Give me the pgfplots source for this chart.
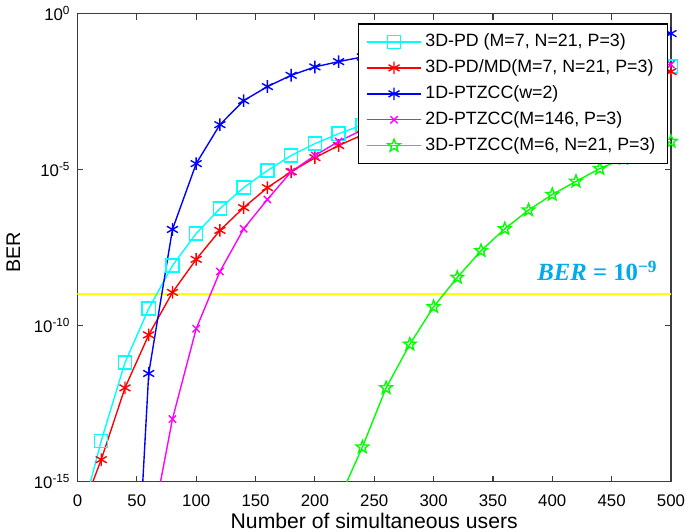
\documentclass[border=0pt]{standalone}
\usepackage{pgfplots}
\pgfplotsset{compat=1.18}
\usepackage{fontspec}
\setmainfont{Liberation Sans}
\newfontfamily\eqfont{Liberation Serif}
\definecolor{eqblue}{RGB}{0,170,235}
\definecolor{axgray}{RGB}{60,60,60}
\definecolor{mcyan}{RGB}{0,255,255}
\definecolor{mred}{RGB}{255,0,0}
\definecolor{mblue}{RGB}{0,0,255}
\definecolor{mmag}{RGB}{255,0,255}
\definecolor{mgreen}{RGB}{0,255,0}
\definecolor{myellow}{RGB}{255,255,0}

% outlined five-pointed star, like MATLAB's 'p' marker
\pgfdeclareplotmark{pentagram}{%
  \pgfpathmoveto{\pgfpointpolar{90}{\pgfplotmarksize}}%
  \pgfpathlineto{\pgfpointpolar{126}{0.42\pgfplotmarksize}}%
  \pgfpathlineto{\pgfpointpolar{162}{\pgfplotmarksize}}%
  \pgfpathlineto{\pgfpointpolar{198}{0.42\pgfplotmarksize}}%
  \pgfpathlineto{\pgfpointpolar{234}{\pgfplotmarksize}}%
  \pgfpathlineto{\pgfpointpolar{270}{0.42\pgfplotmarksize}}%
  \pgfpathlineto{\pgfpointpolar{306}{\pgfplotmarksize}}%
  \pgfpathlineto{\pgfpointpolar{342}{0.42\pgfplotmarksize}}%
  \pgfpathlineto{\pgfpointpolar{18}{\pgfplotmarksize}}%
  \pgfpathlineto{\pgfpointpolar{54}{0.42\pgfplotmarksize}}%
  \pgfpathclose
  \pgfusepathqstroke
}

\begin{document}
\begin{tikzpicture}
\begin{axis}[
    scale only axis,
    width=300pt, height=236.5pt,
    ymode=log,
    xmin=0, xmax=500,
    ymin=1e-15, ymax=1,
    xtick={0,50,...,500},
    ytick={1e-15,1e-10,1e-5,1},
    yticklabels={10\textsuperscript{-15},10\textsuperscript{-10},10\textsuperscript{-5},10\textsuperscript{0}},
    minor ytick={}, minor xtick={},
    /pgf/number format/assume math mode=true,
    tick align=inside,
    major tick length=3pt,
    axis line style={axgray, line width=0.8pt},
    every tick/.style={axgray, line width=0.6pt},
    ticklabel style={font=\fontsize{8.5}{10}\selectfont},
    xticklabel style={inner xsep=0pt, yshift=-3pt},
    xlabel={Number of simultaneous users},
    ylabel={BER},
    every axis x label/.style={at={(axis description cs:0.5,-0.100)}, anchor=base,
        inner sep=1.5pt, font=\fontsize{10.7}{12}\selectfont},
    every axis y label/.style={at={(axis description cs:-0.108,0.49)}, rotate=90,
        anchor=center, font=\fontsize{10}{12}\selectfont},
    legend style={at={(0.995,0.979)}, anchor=north east, draw=black, line width=0.7pt,
        font=\fontsize{9}{11}\selectfont, row sep=1.1pt, inner xsep=4pt, inner ysep=3pt},
    legend cell align=left,
    legend image code/.code={\draw[mark repeat=2,mark phase=2,line width=0.7pt]
        plot coordinates {(0pt,0pt) (13.5pt,0pt) (27pt,0pt)};},
    every axis plot/.append style={line width=0.7pt},
]
% threshold line
\addplot[myellow, line width=1pt, forget plot] coordinates {(0,1e-9) (500,1e-9)};

% tails below the lower limit (no markers)
\addplot[mcyan, forget plot] coordinates {(0,2.5e-17) (20,2.0e-14)};
\addplot[mred, forget plot] coordinates {(0,5.0e-17) (20,5.0e-15)};
\addplot[mblue, forget plot] coordinates {(50,3.2e-19) (60,2.9e-12)};
\addplot[mmag, forget plot] coordinates {(60,1e-17) (80,1e-13)};
\addplot[mgreen, forget plot] coordinates {(220,2.5e-16) (240,1.26e-14)};

% 3D-PD
\addplot[mcyan, mark=square, mark size=3.3pt] coordinates {
(20,2.0e-14) (40,6.46e-12) (60,3.47e-10) (80,8.3e-9) (100,8.9e-8)
(120,5.6e-7) (140,2.63e-6) (160,9.3e-6) (180,2.82e-5) (200,6.76e-5)
(220,1.41e-4) (240,2.69e-4) (260,4.79e-4) (280,8.13e-4) (300,1.32e-3)
(320,2.04e-3) (340,3.02e-3) (360,4.27e-3) (380,5.89e-3) (400,7.76e-3)
(420,1.0e-2) (440,1.26e-2) (460,1.51e-2) (480,1.78e-2) (500,2.0e-2)};
\addlegendentry{3D-PD (M=7, N=21, P=3)}

% 3D-PD/MD
\addplot[mred, mark=asterisk, mark size=3.2pt] coordinates {
(20,5.0e-15) (40,1.0e-12) (60,5.0e-11) (80,1.15e-9) (100,1.32e-8)
(120,1.12e-7) (140,6.03e-7) (160,2.63e-6) (180,8.51e-6) (200,2.4e-5)
(220,5.89e-5) (240,1.29e-4) (260,2.57e-4) (280,4.79e-4) (300,8.32e-4)
(320,1.35e-3) (340,2.09e-3) (360,3.09e-3) (380,4.37e-3) (400,5.89e-3)
(420,7.59e-3) (440,9.33e-3) (460,1.1e-2) (480,1.26e-2) (500,1.38e-2)};
\addlegendentry{3D-PD/MD(M=7, N=21, P=3)}

% 1D-PTZCC
\addplot[mblue, mark=asterisk, mark size=3.2pt] coordinates {
(60,2.9e-12) (80,1.2e-7) (100,1.55e-5) (120,2.75e-4) (140,1.62e-3)
(160,4.57e-3) (180,1.05e-2) (200,1.95e-2) (220,2.88e-2) (240,4.07e-2)
(260,5.5e-2) (280,7.08e-2) (300,8.9e-2) (320,0.107) (340,0.126)
(360,0.145) (380,0.162) (400,0.178) (420,0.19) (440,0.204)
(460,0.214) (480,0.224) (500,0.229)};
\addlegendentry{1D-PTZCC(w=2)}

% 2D-PTZCC
\addplot[mmag, mark=x, mark size=2.6pt] coordinates {
(80,1e-13) (100,7.9e-11) (120,5.37e-9) (140,1.26e-7) (160,1.1e-6)
(180,8.51e-6) (200,2.82e-5) (220,7.94e-5) (240,1.86e-4) (260,3.89e-4)
(280,7.41e-4) (300,1.32e-3) (320,2.19e-3) (340,3.47e-3) (360,5.25e-3)
(380,7.59e-3) (400,1.05e-2) (420,1.35e-2) (440,1.66e-2) (460,1.95e-2)
(480,2.19e-2) (500,2.34e-2)};
\addlegendentry{2D-PTZCC(M=146, P=3)}

% 3D-PTZCC
\addplot[mgreen, mark=pentagram, mark size=3.3pt] coordinates {
(240,1.26e-14) (260,1.0e-12) (280,2.5e-11) (300,3.98e-10) (320,3.47e-9)
(340,2.5e-8) (360,1.26e-7) (380,5.0e-7) (400,1.58e-6) (420,4.17e-6)
(440,1.07e-5) (460,2.24e-5) (480,4.27e-5) (500,7.94e-5)};
\addlegendentry{3D-PTZCC(M=6, N=21, P=3)}

\node[anchor=south east, text=eqblue, inner sep=0pt, font=\fontsize{12.5}{14}\selectfont]
    at (axis cs:489,2.6e-9) {\eqfont\bfseries\itshape BER\/ \upshape= 10\textsuperscript{−9}};
\end{axis}
\end{tikzpicture}
\end{document}
